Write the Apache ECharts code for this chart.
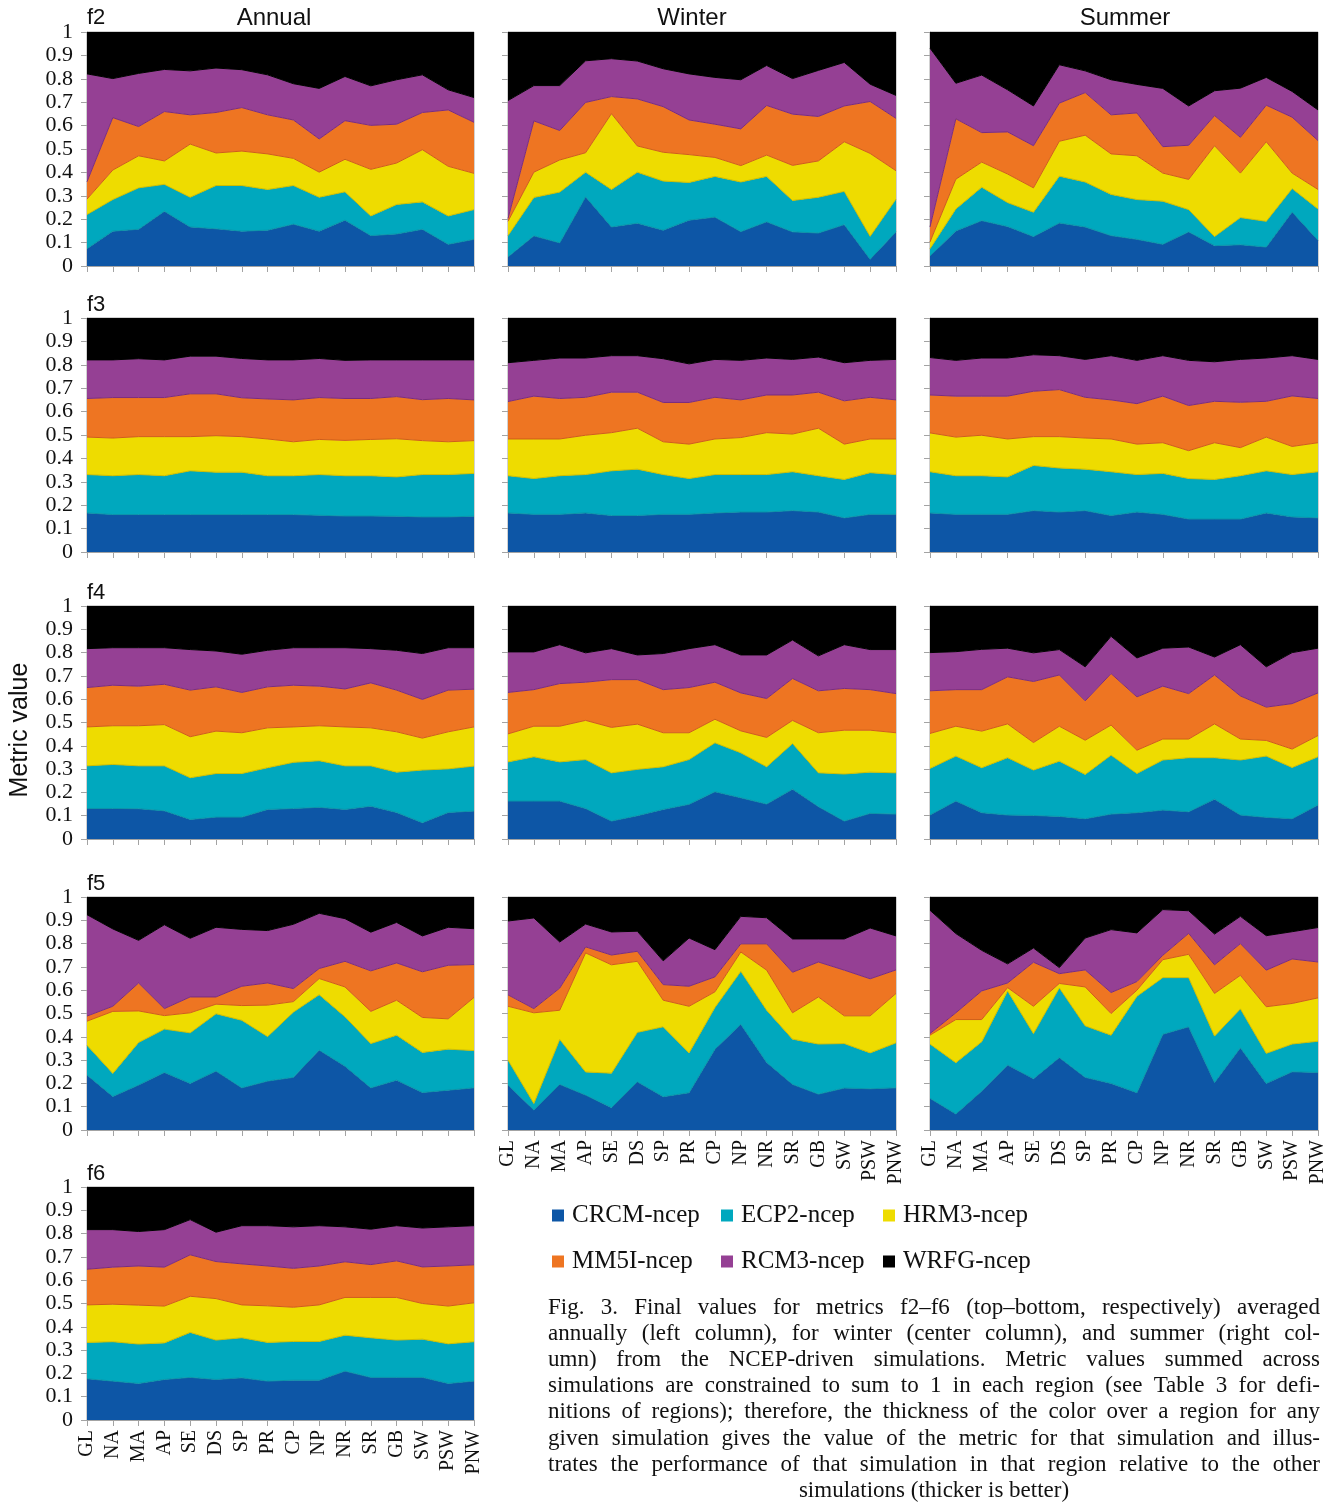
<!DOCTYPE html>
<html><head><meta charset="utf-8">
<script src="https://cdn.jsdelivr.net/npm/echarts@6/dist/echarts.min.js"></script>
<style>html,body{margin:0;padding:0;background:#fff}#chart{width:1341px;height:1505px}</style>
</head><body><div id="chart"></div><script>
const regions = ['GL','NA','MA','AP','SE','DS','SP','PR','CP','NP','NR','SR','GB','SW','PSW','PNW'];
const models = ['CRCM-ncep','ECP2-ncep','HRM3-ncep','MM5I-ncep','RCM3-ncep','WRFG-ncep'];
const metricNames = ['f2','f3','f4','f5','f6'];
const seasonNames = ['Annual','Winter','Summer'];

// ---- f2 ----
const f2_annual_CRCM = [.074,.149,.157,.234,.167,.159,.149,.153,.179,.149,.196,.130,.137,.157,.093,.114];
const f2_annual_ECP2 = [.146,.135,.177,.115,.127,.185,.195,.174,.165,.145,.121,.084,.126,.117,.121,.127];
const f2_annual_HRM3 = [.066,.126,.137,.100,.227,.139,.147,.152,.116,.107,.139,.199,.177,.223,.212,.155];
const f2_annual_MM5I = [.074,.224,.125,.211,.125,.173,.186,.167,.164,.142,.165,.188,.166,.159,.241,.218];
const f2_annual_RCM3 = [.461,.167,.227,.180,.188,.190,.162,.171,.155,.216,.189,.169,.190,.161,.086,.106];
const f2_annual_WRFG = [.179,.199,.177,.160,.166,.154,.161,.183,.221,.241,.190,.230,.204,.183,.247,.280];

const f2_winter_CRCM = [.039,.129,.099,.296,.167,.183,.153,.196,.209,.147,.189,.146,.141,.177,.029,.146];
const f2_winter_ECP2 = [.091,.164,.217,.105,.160,.218,.210,.161,.174,.212,.194,.134,.153,.142,.098,.140];
const f2_winter_HRM3 = [.061,.108,.137,.083,.324,.112,.123,.119,.081,.070,.091,.150,.155,.212,.354,.121];
const f2_winter_MM5I = [.012,.219,.126,.215,.073,.201,.195,.148,.142,.157,.212,.219,.190,.153,.222,.224];
const f2_winter_RCM3 = [.504,.151,.192,.178,.162,.162,.162,.197,.200,.210,.171,.152,.197,.186,.074,.098];
const f2_winter_WRFG = [.293,.229,.229,.123,.114,.124,.157,.179,.194,.204,.143,.199,.164,.130,.223,.271];

const f2_summer_CRCM = [.043,.150,.194,.169,.126,.184,.167,.130,.114,.093,.146,.087,.091,.081,.231,.110];
const f2_summer_ECP2 = [.031,.094,.143,.102,.104,.200,.192,.176,.170,.184,.095,.039,.116,.110,.100,.134];
const f2_summer_HRM3 = [.029,.127,.107,.122,.104,.149,.200,.173,.187,.120,.129,.388,.190,.340,.066,.083];
const f2_summer_MM5I = [.064,.258,.126,.180,.180,.163,.182,.167,.183,.113,.146,.129,.153,.156,.239,.209];
const f2_summer_RCM3 = [.764,.152,.246,.180,.170,.164,.093,.150,.122,.249,.168,.106,.210,.119,.110,.131];
const f2_summer_WRFG = [.069,.219,.184,.247,.316,.140,.166,.204,.224,.241,.316,.251,.240,.194,.254,.333];

// ---- f3 ----
const f3_annual_CRCM = [.167,.160,.160,.160,.160,.160,.160,.160,.160,.157,.154,.154,.153,.150,.150,.153];
const f3_annual_ECP2 = [.164,.166,.171,.166,.187,.181,.181,.166,.166,.174,.172,.172,.168,.181,.181,.183];
const f3_annual_HRM3 = [.160,.161,.162,.167,.146,.156,.152,.157,.145,.150,.151,.155,.163,.145,.140,.140];
const f3_annual_MM5I = [.165,.173,.167,.167,.183,.179,.166,.171,.179,.179,.179,.175,.180,.175,.185,.174];
const f3_annual_RCM3 = [.165,.161,.166,.161,.161,.161,.168,.167,.171,.167,.163,.165,.157,.170,.165,.171];
const f3_annual_WRFG = [.179,.179,.174,.179,.163,.163,.173,.179,.179,.173,.181,.179,.179,.179,.179,.179];

const f3_winter_CRCM = [.167,.161,.161,.167,.156,.156,.161,.161,.167,.171,.171,.177,.171,.146,.161,.161];
const f3_winter_ECP2 = [.159,.153,.165,.164,.191,.198,.170,.153,.164,.160,.160,.166,.155,.164,.178,.170];
const f3_winter_HRM3 = [.157,.169,.157,.168,.163,.175,.140,.147,.152,.158,.179,.161,.203,.151,.144,.152];
const f3_winter_MM5I = [.160,.183,.173,.162,.173,.154,.168,.178,.178,.161,.161,.167,.154,.185,.178,.167];
const f3_winter_RCM3 = [.166,.153,.173,.168,.156,.156,.187,.165,.162,.169,.158,.152,.150,.163,.158,.173];
const f3_winter_WRFG = [.191,.181,.171,.171,.161,.161,.174,.196,.177,.181,.171,.177,.167,.191,.181,.177];

const f3_summer_CRCM = [.167,.161,.161,.161,.177,.171,.177,.156,.171,.161,.141,.141,.141,.167,.150,.146];
const f3_summer_ECP2 = [.176,.165,.165,.160,.193,.188,.177,.187,.160,.175,.173,.169,.185,.180,.181,.197];
const f3_summer_HRM3 = [.166,.165,.173,.162,.123,.134,.133,.140,.130,.131,.119,.157,.120,.144,.120,.124];
const f3_summer_MM5I = [.162,.175,.167,.183,.194,.201,.174,.167,.173,.199,.193,.177,.194,.153,.216,.189];
const f3_summer_RCM3 = [.160,.153,.163,.163,.156,.145,.162,.189,.185,.173,.193,.169,.183,.185,.172,.167];
const f3_summer_WRFG = [.169,.181,.171,.171,.157,.161,.177,.161,.181,.161,.181,.187,.177,.171,.161,.177];

// ---- f4 ----
const f4_annual_CRCM = [.131,.131,.130,.121,.084,.094,.094,.127,.131,.136,.127,.141,.114,.070,.114,.120];
const f4_annual_ECP2 = [.183,.189,.184,.193,.179,.187,.187,.179,.198,.200,.187,.173,.173,.226,.187,.193];
const f4_annual_HRM3 = [.167,.166,.172,.177,.176,.182,.175,.171,.152,.150,.167,.163,.173,.137,.159,.168];
const f4_annual_MM5I = [.169,.174,.170,.173,.200,.190,.173,.176,.179,.170,.163,.193,.179,.166,.179,.162];
const f4_annual_RCM3 = [.167,.161,.165,.157,.174,.154,.164,.157,.161,.165,.177,.147,.171,.197,.182,.178];
const f4_annual_WRFG = [.183,.179,.179,.179,.187,.193,.207,.190,.179,.179,.179,.183,.190,.204,.179,.179];

const f4_winter_CRCM = [.163,.163,.163,.131,.077,.100,.127,.149,.203,.177,.150,.214,.139,.077,.110,.107];
const f4_winter_ECP2 = [.168,.190,.168,.210,.207,.199,.183,.192,.210,.193,.160,.196,.145,.202,.177,.177];
const f4_winter_HRM3 = [.120,.131,.153,.168,.195,.194,.146,.115,.101,.094,.126,.099,.172,.188,.180,.172];
const f4_winter_MM5I = [.178,.157,.183,.164,.205,.191,.185,.194,.159,.163,.167,.180,.180,.179,.174,.168];
const f4_winter_RCM3 = [.174,.162,.167,.126,.133,.106,.155,.167,.161,.163,.187,.165,.150,.188,.172,.189];
const f4_winter_WRFG = [.197,.197,.166,.201,.183,.210,.204,.183,.166,.210,.210,.146,.214,.166,.187,.187];

const f4_summer_CRCM = [.103,.163,.113,.103,.101,.097,.087,.107,.113,.124,.117,.171,.103,.093,.087,.146];
const f4_summer_ECP2 = [.200,.193,.193,.246,.195,.237,.190,.253,.168,.215,.232,.178,.236,.263,.220,.207];
const f4_summer_HRM3 = [.150,.128,.157,.145,.118,.150,.147,.129,.100,.090,.080,.145,.090,.067,.079,.091];
const f4_summer_MM5I = [.183,.157,.178,.202,.262,.220,.169,.221,.229,.227,.195,.210,.185,.143,.195,.183];
const f4_summer_RCM3 = [.164,.163,.173,.123,.123,.109,.146,.160,.167,.163,.200,.077,.220,.173,.219,.192];
const f4_summer_WRFG = [.200,.196,.186,.181,.201,.187,.261,.130,.223,.181,.176,.219,.166,.261,.200,.181];

// ---- f5 ----
const f5_annual_CRCM = [.236,.144,.193,.247,.200,.253,.181,.210,.226,.343,.274,.181,.214,.161,.171,.181];
const f5_annual_ECP2 = [.128,.099,.183,.186,.217,.246,.290,.191,.280,.238,.212,.190,.193,.172,.176,.160];
const f5_annual_HRM3 = [.103,.266,.135,.058,.086,.041,.063,.135,.045,.069,.128,.138,.150,.150,.130,.228];
const f5_annual_MM5I = [.022,.022,.120,.030,.068,.031,.083,.095,.056,.043,.110,.174,.160,.196,.230,.141];
const f5_annual_RCM3 = [.435,.332,.183,.360,.252,.299,.244,.225,.276,.237,.183,.166,.174,.154,.163,.154];
const f5_annual_WRFG = [.076,.137,.186,.119,.177,.130,.139,.144,.117,.070,.093,.151,.109,.167,.130,.136];

const f5_winter_CRCM = [.193,.086,.196,.150,.096,.207,.143,.160,.347,.454,.290,.196,.154,.180,.177,.181];
const f5_winter_ECP2 = [.107,.028,.193,.099,.148,.212,.300,.171,.179,.227,.224,.194,.215,.191,.154,.193];
const f5_winter_HRM3 = [.231,.389,.125,.511,.465,.305,.114,.200,.067,.083,.172,.113,.202,.119,.159,.212];
const f5_winter_MM5I = [.049,.018,.095,.026,.042,.043,.067,.086,.064,.035,.113,.174,.150,.196,.159,.101];
const f5_winter_RCM3 = [.317,.389,.198,.098,.099,.086,.102,.207,.117,.118,.112,.143,.099,.134,.218,.146];
const f5_winter_WRFG = [.103,.090,.193,.116,.150,.147,.274,.176,.226,.083,.089,.180,.180,.180,.133,.167];

const f5_summer_CRCM = [.136,.069,.167,.279,.220,.311,.226,.200,.160,.411,.443,.204,.353,.200,.250,.247];
const f5_summer_ECP2 = [.233,.220,.212,.318,.194,.299,.221,.207,.414,.243,.211,.199,.167,.129,.119,.134];
const f5_summer_HRM3 = [.038,.185,.095,.014,.117,.019,.167,.093,.026,.077,.100,.183,.144,.200,.174,.186];
const f5_summer_MM5I = [.007,.029,.123,.020,.189,.042,.073,.090,.037,.019,.090,.123,.136,.157,.191,.154];
const f5_summer_RCM3 = [.529,.340,.174,.082,.061,.026,.137,.270,.209,.196,.097,.132,.117,.148,.117,.148];
const f5_summer_WRFG = [.057,.157,.229,.287,.219,.303,.176,.140,.154,.054,.059,.159,.083,.166,.149,.131];

// ---- f6 ----
const f6_annual_CRCM = [.177,.167,.157,.174,.183,.174,.181,.167,.171,.171,.210,.183,.183,.183,.157,.167];
const f6_annual_ECP2 = [.156,.169,.169,.157,.193,.169,.172,.166,.166,.166,.154,.170,.160,.164,.170,.169];
const f6_annual_HRM3 = [.161,.161,.167,.158,.155,.178,.141,.157,.147,.157,.162,.173,.183,.153,.162,.167];
const f6_annual_MM5I = [.153,.159,.168,.167,.178,.159,.176,.171,.167,.167,.153,.141,.157,.157,.172,.163];
const f6_annual_RCM3 = [.170,.161,.148,.161,.151,.126,.164,.173,.178,.173,.150,.152,.151,.167,.168,.168];
const f6_annual_WRFG = [.183,.183,.191,.183,.140,.194,.166,.166,.171,.166,.171,.181,.166,.176,.171,.166];

const captionLines = [
  'Fig. 3. Final values for metrics f2\u2013f6 (top\u2013bottom, respectively) averaged',
  'annually (left column), for winter (center column), and summer (right col-',
  'umn) from the NCEP-driven simulations. Metric values summed across',
  'simulations are constrained to sum to 1 in each region (see Table 3 for defi-',
  'nitions of regions); therefore, the thickness of the color over a region for any',
  'given simulation gives the value of the metric for that simulation and illus-',
  'trates the performance of that simulation in that region relative to the other',
  'simulations (thicker is better)'
];

const panelValues = {
  f2: { Annual: [f2_annual_CRCM,f2_annual_ECP2,f2_annual_HRM3,f2_annual_MM5I,f2_annual_RCM3,f2_annual_WRFG],
        Winter: [f2_winter_CRCM,f2_winter_ECP2,f2_winter_HRM3,f2_winter_MM5I,f2_winter_RCM3,f2_winter_WRFG],
        Summer: [f2_summer_CRCM,f2_summer_ECP2,f2_summer_HRM3,f2_summer_MM5I,f2_summer_RCM3,f2_summer_WRFG] },
  f3: { Annual: [f3_annual_CRCM,f3_annual_ECP2,f3_annual_HRM3,f3_annual_MM5I,f3_annual_RCM3,f3_annual_WRFG],
        Winter: [f3_winter_CRCM,f3_winter_ECP2,f3_winter_HRM3,f3_winter_MM5I,f3_winter_RCM3,f3_winter_WRFG],
        Summer: [f3_summer_CRCM,f3_summer_ECP2,f3_summer_HRM3,f3_summer_MM5I,f3_summer_RCM3,f3_summer_WRFG] },
  f4: { Annual: [f4_annual_CRCM,f4_annual_ECP2,f4_annual_HRM3,f4_annual_MM5I,f4_annual_RCM3,f4_annual_WRFG],
        Winter: [f4_winter_CRCM,f4_winter_ECP2,f4_winter_HRM3,f4_winter_MM5I,f4_winter_RCM3,f4_winter_WRFG],
        Summer: [f4_summer_CRCM,f4_summer_ECP2,f4_summer_HRM3,f4_summer_MM5I,f4_summer_RCM3,f4_summer_WRFG] },
  f5: { Annual: [f5_annual_CRCM,f5_annual_ECP2,f5_annual_HRM3,f5_annual_MM5I,f5_annual_RCM3,f5_annual_WRFG],
        Winter: [f5_winter_CRCM,f5_winter_ECP2,f5_winter_HRM3,f5_winter_MM5I,f5_winter_RCM3,f5_winter_WRFG],
        Summer: [f5_summer_CRCM,f5_summer_ECP2,f5_summer_HRM3,f5_summer_MM5I,f5_summer_RCM3,f5_summer_WRFG] },
  f6: { Annual: [f6_annual_CRCM,f6_annual_ECP2,f6_annual_HRM3,f6_annual_MM5I,f6_annual_RCM3,f6_annual_WRFG] }
};

// ---- styling / layout ----
const fillColors = ['#0d56a6','#00a8be','#eedc00','#ee7522','#954094','#000000'];
const edgeColors = ['#0a93a8','#cdbd00','#cf5e18','#7a2c7e','#000000','#000000'];
const axisGray = '#a3a3a3';
const serif = '"Liberation Serif", "Times New Roman", serif';
const sans = '"Liberation Sans", Arial, sans-serif';
const colLeft = [87, 508, 930], colWidth = [387, 388, 388];
const rowTop = [32, 318, 606, 897, 1187], rowHeight = [234, 234, 233, 233, 233];

const grids = [], xAxes = [], yAxes = [], series = [];
let idx = 0;
metricNames.forEach((mn, r) => {
  seasonNames.forEach((sn, c) => {
    const vals = panelValues[mn][sn];
    if (!vals) return;
    const isBottom = (r === 4 && c === 0) || (r === 3 && c > 0);
    grids.push({ left: colLeft[c], top: rowTop[r], width: colWidth[c], height: rowHeight[r],
      show: true, borderColor: axisGray, borderWidth: 1, backgroundColor: 'rgba(0,0,0,0)',
      containLabel: false, outerBoundsMode: 'none' });
    xAxes.push({ type: 'category', gridIndex: idx, data: regions, boundaryGap: false,
      axisLine: { show: true, lineStyle: { color: axisGray, width: 1 } },
      axisTick: { show: true, length: 6, interval: 0, lineStyle: { color: axisGray } },
      axisLabel: { show: isBottom, interval: 0, rotate: 90, margin: 10, hideOverlap: false,
        fontFamily: serif, fontSize: 20, color: '#111' },
      splitLine: { show: false } });
    yAxes.push({ type: 'value', gridIndex: idx, min: 0, max: 1, interval: 0.1,
      axisLine: { show: true, lineStyle: { color: axisGray, width: 1 } },
      axisTick: { show: true, length: 6, lineStyle: { color: axisGray } },
      axisLabel: { show: c === 0, margin: 14, fontFamily: serif, fontSize: 22, color: '#111',
        showMinLabel: true, showMaxLabel: true, hideOverlap: false },
      splitLine: { show: false } });
    vals.forEach((arr, k) => {
      series.push({ name: models[k], type: 'line', stack: 'panel' + idx,
        xAxisIndex: idx, yAxisIndex: idx, data: arr,
        symbol: 'none', showSymbol: false, smooth: false, silent: true,
        color: fillColors[k], itemStyle: { color: fillColors[k] },
        lineStyle: { width: k < 5 ? 1 : 0, color: edgeColors[k] },
        areaStyle: { color: fillColors[k], opacity: 1 },
        emphasis: { disabled: true } });
    });
    idx++;
  });
});

// ---- legends ----
const legendPos = [[552, 1217], [721, 1217], [883, 1217], [552, 1263], [721, 1263], [883, 1263]];
const legends = models.map((m, k) => ({
  data: [{ name: m, icon: 'rect' }], left: legendPos[k][0], top: legendPos[k][1] - 14,
  orient: 'horizontal', padding: 0, itemGap: 0, itemWidth: 12, itemHeight: 12,
  selectedMode: false, itemStyle: { borderWidth: 0 },
  textStyle: { fontFamily: serif, fontSize: 25, color: '#111', padding: [0, 0, 0, 3] }
}));

// ---- texts ----
function txt(text, x, y, font, align, vAlign, extra) {
  return Object.assign({ type: 'text', x: x, y: y, silent: true,
    style: { text: text, font: font, fill: '#111', align: align, textAlign: align,
      verticalAlign: vAlign, textVerticalAlign: vAlign } }, extra || {});
}
const graphics = [];
graphics.push(txt('Annual', 274, 18, '24px ' + sans, 'center', 'middle'));
graphics.push(txt('Winter', 692, 18, '24px ' + sans, 'center', 'middle'));
graphics.push(txt('Summer', 1125, 18, '24px ' + sans, 'center', 'middle'));
const fLabelY = [18, 305, 593, 884, 1174];
metricNames.forEach((mn, r) => graphics.push(txt(mn, 87, fLabelY[r], '22px ' + sans, 'left', 'middle')));
graphics.push(txt('Metric value', 20, 730, '25px ' + sans, 'center', 'middle', { rotation: Math.PI / 2 }));

// caption, justified word by word
const capFontSize = 23, capLeft = 548, capRight = 1320, capTop = 1308, capLineH = 26.1;
const capFont = capFontSize + 'px ' + serif;
const meas = document.createElement('canvas').getContext('2d');
meas.font = capFont;
captionLines.forEach((line, i) => {
  const y = capTop + i * capLineH;
  if (i === captionLines.length - 1) {
    graphics.push(txt(line, 934, y, capFont, 'center', 'middle'));
    return;
  }
  const words = line.split(' ');
  const widths = words.map(w => meas.measureText(w).width);
  const total = widths.reduce((a, b) => a + b, 0);
  const gap = Math.max(2, (capRight - capLeft - total) / (words.length - 1));
  let x = capLeft;
  words.forEach((w, k) => { graphics.push(txt(w, x, y, capFont, 'left', 'middle')); x += widths[k] + gap; });
});

const chart = echarts.init(document.getElementById('chart'), null, { renderer: 'canvas', width: 1341, height: 1505 });
chart.setOption({
  animation: false,
  backgroundColor: '#ffffff',
  grid: grids, xAxis: xAxes, yAxis: yAxes, series: series,
  legend: legends,
  tooltip: { show: false },
  graphic: graphics
});
</script></body></html>
